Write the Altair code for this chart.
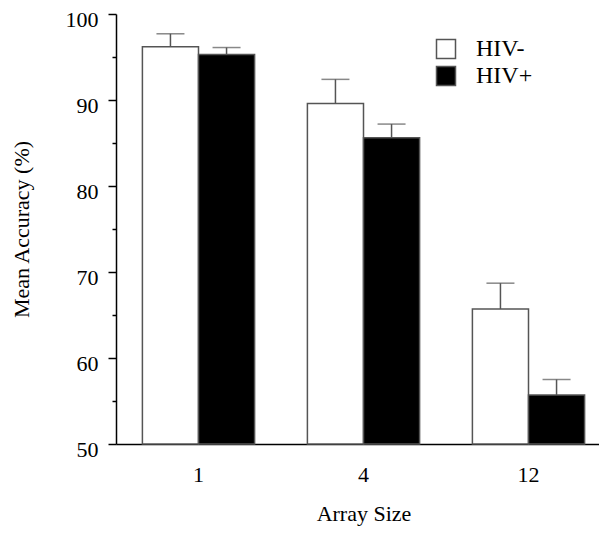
import altair as alt
import pandas as pd

sizes = ["1", "4", "12"]
groups = ["HIV-", "HIV+"]
hiv_neg_mean = [96.2, 89.6, 65.7]
hiv_pos_mean = [95.3, 85.6, 55.7]
hiv_neg_se = [1.5, 2.8, 3.0]
hiv_pos_se = [0.8, 1.6, 1.8]
y_ticks = [50, 55, 60, 65, 70, 75, 80, 85, 90, 95, 100]

rows = []
for i, s in enumerate(sizes):
    rows.append({"size": s, "group": groups[0], "mean": hiv_neg_mean[i], "se": hiv_neg_se[i]})
    rows.append({"size": s, "group": groups[1], "mean": hiv_pos_mean[i], "se": hiv_pos_se[i]})
df = pd.DataFrame(rows)

FONT = "Liberation Serif"
EDGE = "#555555"

x = alt.X(
    "size:N", sort=sizes,
    scale=alt.Scale(paddingInner=0.32, paddingOuter=0.16, range=[0, 495]),
    axis=alt.Axis(title="Array Size", labelAngle=0, ticks=False, labelPadding=20,
                  titlePadding=18, domainColor="black", domainWidth=1.5),
)
xo = alt.XOffset("group:N", sort=groups,
                 scale=alt.Scale(domain=groups, paddingInner=0, paddingOuter=0))
yscale = alt.Scale(domain=[50, 100], nice=False, zero=False)
yaxis = alt.Axis(
    title="Mean Accuracy (%)", values=y_ticks,
    labelExpr="datum.value % 10 === 0 ? datum.label : ''",
    tickSize={"condition": {"test": "datum.value % 10 === 0", "value": 8}, "value": 4},
    tickColor="black", tickWidth=1.5, domainColor="black", domainWidth=1.5,
    labelPadding=10, labelOffset=5, titlePadding=32, grid=False,
)

base = alt.Chart(df)
bars = base.mark_bar(stroke=EDGE, strokeWidth=1.5).encode(
    x=x, xOffset=xo,
    y=alt.Y("mean:Q", scale=yscale, axis=yaxis),
    y2=alt.datum(50),
    fill=alt.Fill("group:N", sort=groups,
                  scale=alt.Scale(domain=groups, range=["white", "black"]),
                  legend=alt.Legend(title=None, orient="none", legendX=318, legendY=23,
                                    symbolType="square", symbolSize=361,
                                    symbolStrokeColor=EDGE, symbolStrokeWidth=1.5,
                                    labelFont=FONT, labelFontSize=24, labelOffset=18,
                                    rowPadding=1, labelColor="black")),
)
err = base.transform_calculate(upper="datum.mean + datum.se").mark_rule(
    color=EDGE, strokeWidth=1.5).encode(x=x, xOffset=xo, y=alt.Y("mean:Q", scale=yscale), y2="upper:Q")
cap = base.transform_calculate(upper="datum.mean + datum.se").mark_tick(
    color=EDGE, thickness=1.5, size=28, orient="horizontal").encode(
    x=x, xOffset=xo, y=alt.Y("upper:Q", scale=yscale))

chart = alt.layer(err, cap, bars).properties(
    width=483, height=430,
    autosize=alt.AutoSizeParams(type="none"),
    padding={"left": 108, "top": 6, "right": 0, "bottom": 83},
).configure_view(stroke=None).configure_axis(
    labelFont=FONT, labelFontSize=22, labelColor="black",
    titleFont=FONT, titleFontSize=22, titleFontWeight="normal", titleColor="black",
)

chart.save("out.html", embed_options={"renderer": "svg", "actions": False})
